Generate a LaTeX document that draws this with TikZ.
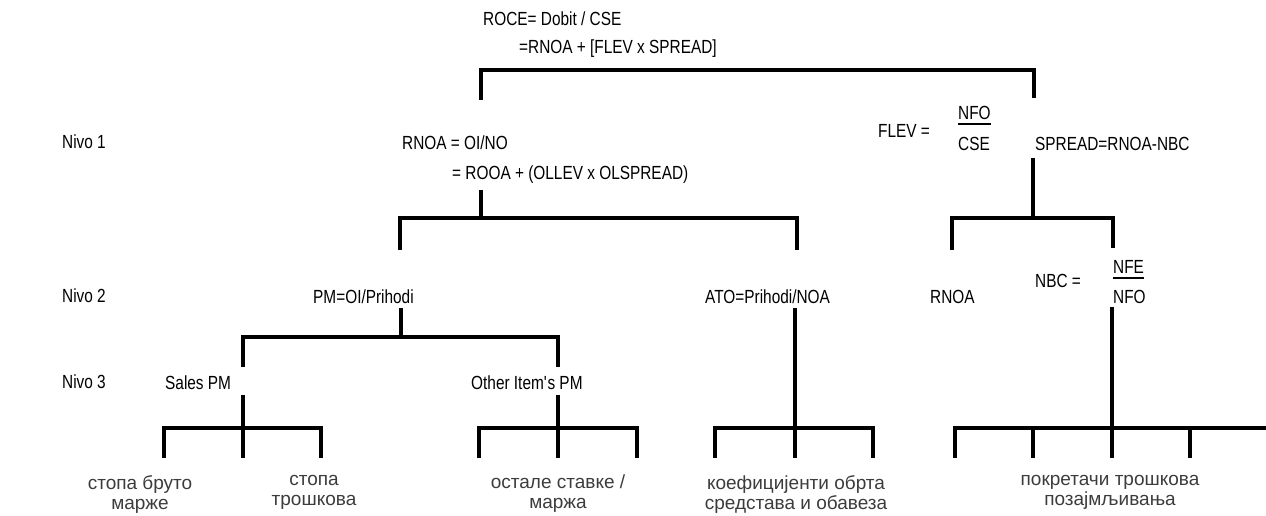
\documentclass[tikz,border=0pt]{standalone}
\usepackage{fontspec}
\setmainfont{Liberation Sans}[FakeStretch=0.81]
\newfontfamily\cyr{Liberation Sans}
\definecolor{cyrgray}{RGB}{60,60,60}
\begin{document}
\begin{tikzpicture}[x=1pt,y=-1pt,
  lbl/.style={anchor=base west,inner sep=0pt,font=\fontsize{19}{21}\selectfont},
  leaf/.style={anchor=north,inner sep=0pt,align=center,text=cyrgray,font=\cyr\fontsize{19}{20}\selectfont},
  bar/.style={line width=4pt,line join=miter,line cap=butt},
  frac/.style={line width=1.4pt}]
\useasboundingbox (0,0) rectangle (1266,515);
% level labels
\node[lbl] (nivo1) at (62,148) {Nivo 1};
\node[lbl] (nivo2) at (62,302) {Nivo 2};
\node[lbl] (nivo3) at (62,388) {Nivo 3};
% top
\node[lbl] (roceA) at (483,25) {ROCE= Dobit / CSE};
\node[lbl] (roceB) at (519,53) {=RNOA + [FLEV x SPREAD]};
% level 1
\node[lbl] (rnoaA) at (402,149) {RNOA = OI/NO};
\node[lbl] (rnoaB) at (452,179) {= ROOA + (OLLEV x OLSPREAD)};
\node[lbl] (flev) at (878,137) {FLEV =};
\node[lbl] (nfo) at (958,119) {NFO};
\node[lbl] (cse) at (958,150) {CSE};
\node[lbl] (spread) at (1035,150) {SPREAD=RNOA-NBC};
% level 2
\node[lbl] (pm) at (313,303) {PM=OI/Prihodi};
\node[lbl] (ato) at (705,303) {ATO=Prihodi/NOA};
\node[lbl] (rnoa2) at (930,303) {RNOA};
\node[lbl] (nbc) at (1035,287) {NBC =};
\node[lbl] (nfe) at (1113,273) {NFE};
\node[lbl] (nfob) at (1113,303) {NFO};
% level 3
\node[lbl] (sales) at (165,389) {Sales PM};
\node[lbl] (other) at (471,389) {Other Item\textquotesingle s PM};
% leaves
\node[leaf] (leaf1) at (140,475) {стопа бруто\\марже};
\node[leaf] (leaf2) at (314,475) {стопа\\трошкова};
\node[leaf] (leaf3) at (558,475) {остале ставке /\\маржа};
\node[leaf] (leaf4) at (796,475) {коефицијенти обрта\\средстава и обавеза};
\node[leaf] (leaf5) at (1110,475) {покретачи трошкова\\позајмљивања};
% fraction bars
\draw[frac] (nfo.base west) ++(0,5) coordinate (nfoL) -- (nfoL -| nfo.east);
\draw[frac] (nfe.base west) ++(0,5) coordinate (nfeL) -- (nfeL -| nfe.east);
% junction coordinates
\coordinate (tL) at (481,100); \coordinate (tR) at (1034,98);
\coordinate (sT) at (1033,158); \coordinate (sB) at (1033,218);
\coordinate (rT) at (481,190); \coordinate (rB) at (481,218);
\coordinate (aL) at (400,250); \coordinate (aR) at (797,250);
\coordinate (fL) at (952,250); \coordinate (fR) at (1113,248);
\coordinate (pT) at (401,308); \coordinate (pB) at (401,337);
\coordinate (mL) at (243,367); \coordinate (mR) at (558,367);
\coordinate (oT) at (795,308); \coordinate (oB) at (795,458);
\coordinate (nT) at (1112,307); \coordinate (nB) at (1112,458);
\coordinate (slT) at (243,395); \coordinate (slB) at (243,458);
\coordinate (otT) at (558,395); \coordinate (otB) at (558,458);
% top bracket
\draw[bar] (tL) -- (481,70) -- (1034,70) -- (tR);
% FLEV/SPREAD branch
\draw[bar] (sT) -- (sB);
\draw[bar] (fL) -- (952,218) -- (1113,218) -- (fR);
% RNOA branch
\draw[bar] (rT) -- (rB);
\draw[bar] (aL) -- (400,218) -- (797,218) -- (aR);
% PM branch
\draw[bar] (pT) -- (pB);
\draw[bar] (mL) -- (243,337) -- (558,337) -- (mR);
% ATO branch
\draw[bar] (oT) -- (oB);
\draw[bar] (715,458) -- (715,428) -- (873,428) -- (873,458);
% NBC branch
\draw[bar] (nT) -- (nB);
\draw[bar] (955,458) -- (955,428) -- (1266,428);
\draw[bar] (1033,428) -- (1033,458);
\draw[bar] (1190,428) -- (1190,458);
% Sales / Other branches
\draw[bar] (slT) -- (slB);
\draw[bar] (164,458) -- (164,428) -- (321,428) -- (321,458);
\draw[bar] (otT) -- (otB);
\draw[bar] (479,458) -- (479,428) -- (637,428) -- (637,458);
\end{tikzpicture}
\end{document}
